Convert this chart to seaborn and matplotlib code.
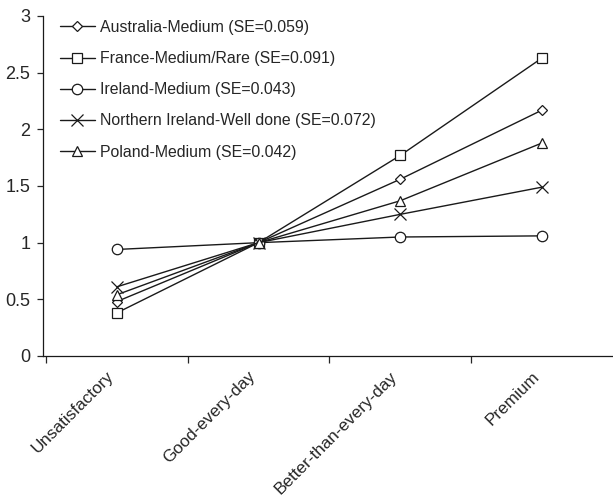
import matplotlib
matplotlib.use("Agg")
import matplotlib.pyplot as plt
import seaborn as sns
import numpy as np

# category labels and point values
categories = ["Unsatisfactory", "Good-every-day", "Better-than-every-day", "Premium"]
series_names = [
    "Australia-Medium (SE=0.059)",
    "France-Medium/Rare (SE=0.091)",
    "Ireland-Medium (SE=0.043)",
    "Northern Ireland-Well done (SE=0.072)",
    "Poland-Medium (SE=0.042)",
]
australia = [0.48, 1.0, 1.56, 2.17]
france = [0.38, 1.0, 1.77, 2.63]
ireland = [0.94, 1.0, 1.05, 1.06]
n_ireland = [0.61, 1.0, 1.25, 1.49]
poland = [0.54, 1.0, 1.37, 1.88]
markers = ["D", "s", "o", "x", "^"]
marker_sizes = [5, 7, 7.5, 8, 7]

sns.set_style("ticks")
plt.rcParams["font.family"] = ["Liberation Sans", "DejaVu Sans"]
plt.rcParams["font.size"] = 12

fig = plt.figure(figsize=(6.13, 4.96), dpi=100)
ax = fig.add_axes([43 / 613, 140 / 496, (613 - 43) / 613, 340 / 496])

x = np.arange(len(categories))
for name, vals, m, ms in zip(series_names, [australia, france, ireland, n_ireland, poland], markers, marker_sizes):
    sns.lineplot(x=x, y=vals, ax=ax, color="#1a1a1a", linewidth=1.0, marker=m,
                 markersize=ms, markerfacecolor="white", markeredgecolor="#1a1a1a",
                 markeredgewidth=0.9, label=name)

ax.set_xlim(-0.52, 3.5)
ax.set_ylim(0, 3)
ax.set_yticks([0, 0.5, 1, 1.5, 2, 2.5, 3])
ax.set_yticklabels(["0", "0.5", "1", "1.5", "2", "2.5", "3"], fontsize=13)

# tick marks between categories; labels (invisible major ticks) nudged a bit left
ax.set_xticks(np.arange(len(categories)) - 0.5, minor=True)
ax.set_xticks(x - 0.075)
ax.set_xticklabels(categories, rotation=45, ha="right", va="top",
                   rotation_mode="anchor", fontsize=12.3)
ax.tick_params(axis="x", which="major", length=0, pad=9)
ax.tick_params(axis="x", which="minor", length=5, width=0.9, direction="out")
ax.tick_params(axis="y", length=4, width=0.9, direction="out", pad=5)

sns.despine(ax=ax)
for s in ["left", "bottom"]:
    ax.spines[s].set_linewidth(0.9)
    ax.spines[s].set_color("#1a1a1a")

ax.legend(loc="upper left", bbox_to_anchor=(60 / 613, 1 - 20 / 496),
          bbox_transform=fig.transFigure, frameon=False, borderpad=0,
          borderaxespad=0, handlelength=2.2, handletextpad=0.35,
          labelspacing=1.02, fontsize=11.4)

fig.savefig("out.png", dpi=100)
